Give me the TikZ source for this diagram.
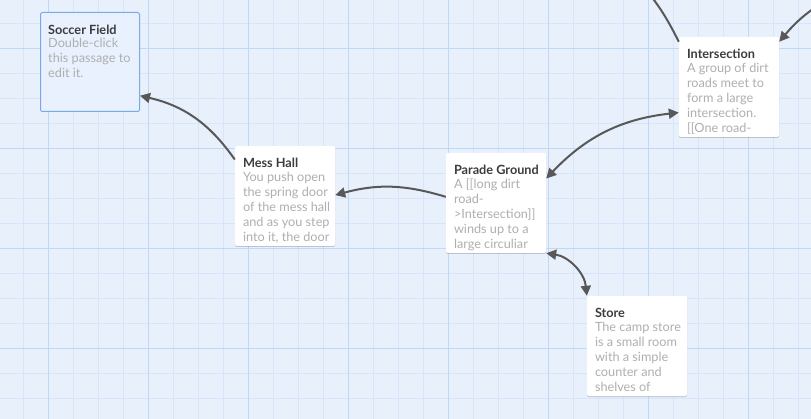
\documentclass[tikz,border=0pt]{standalone}
\usepackage{fontspec}
\setmainfont{Lato}
\usetikzlibrary{arrows.meta,shadows}
\definecolor{mapbg}{RGB}{232,240,252}
\definecolor{gridminor}{RGB}{214,229,250}
\definecolor{gridmajor}{RGB}{192,216,248}
\definecolor{selblue}{RGB}{122,168,232}
\definecolor{selfill}{RGB}{232,241,253}
\definecolor{titlegray}{RGB}{60,60,60}
\definecolor{excerptgray}{RGB}{175,175,175}
\definecolor{linkgray}{RGB}{88,88,88}
\tikzset{
  passage/.style={fill=white, rounded corners=2pt, minimum width=100pt, minimum height=100pt, inner sep=0pt,
    drop shadow={shadow xshift=0pt, shadow yshift=-1pt, opacity=0.18, fill=black}},
  chosen/.style={draw=selblue, fill=selfill, line width=1pt, rounded corners=2pt, minimum width=99pt, minimum height=99pt, inner sep=0pt},
  excerpt/.style={anchor=north west, inner sep=0pt, align=left, text=excerptgray, font=\fontsize{12.7}{15}\selectfont},
  link/.style={draw=linkgray, line width=2pt, -{Triangle[length=10pt,width=10pt]}},
  twoway/.style={link, {Triangle[length=10pt,width=10pt]}-{Triangle[length=10pt,width=10pt]}}
}
\newcommand{\ptitle}[1]{\textcolor{titlegray}{\bfseries #1}\\[-1.5pt]}
\begin{document}
\begin{tikzpicture}[x=1pt,y=1pt]
  \useasboundingbox (0,0) rectangle (811,-419);
  \clip (0,0) rectangle (811,-419);
  % story map grid
  \fill[mapbg] (0,0) rectangle (811,-419);
  \foreach \x in {23,48,...,798} \draw[gridminor] (\x,0) -- (\x,-419);
  \foreach \y in {23,48,...,398} \draw[gridminor] (0,-\y) -- (811,-\y);
  \foreach \x in {48,148,...,748} \draw[gridmajor] (\x,0) -- (\x,-419);
  \foreach \y in {48,148,...,348} \draw[gridmajor] (0,-\y) -- (811,-\y);

  % passages
  \node[chosen] (soccer) at (90,-62) {};
  \node[passage] (mess) at (285,-196) {};
  \node[passage] (parade) at (496,-203) {};
  \node[passage] (inter) at (729,-87) {};
  \node[passage] (store) at (637,-346) {};

  \node[excerpt] (soccertxt) at ([shift={(8,-12.5)}]soccer.north west)
    {\ptitle{Soccer Field}Double-click\\this passage to\\edit it.};
  \node[excerpt] (messtxt) at ([shift={(8,-12.5)}]mess.north west)
    {\ptitle{Mess Hall}You push open\\the spring door\\of the mess hall\\and as you step\\into it, the door};
  \node[excerpt] (paradetxt) at ([shift={(8,-12.5)}]parade.north west)
    {\ptitle{Parade Ground}A [[long dirt\\road-\\>Intersection]]\\winds up to a\\large circuliar};
  \node[excerpt] (intertxt) at ([shift={(8,-12.5)}]inter.north west)
    {\ptitle{Intersection}A group of dirt\\roads meet to\\form a large\\intersection.\\{[}[One road-};
  \node[excerpt] (storetxt) at ([shift={(8,-12.5)}]store.north west)
    {\ptitle{Store}The camp store\\is a small room\\with a simple\\counter and\\shelves of};

  % links
  \coordinate (farnw) at (633,25);
  \coordinate (farne) at (835,5);
  \draw[link] (mess.144) to[bend right=21] (soccer.-34);
  \draw[link] (parade.173) to[bend right=16] (mess.1);
  \draw[twoway] (parade.26) to[bend left=20] (inter.207);
  \draw[twoway] (parade.-45) to[bend left=38] (store.135);
  \draw[link, -] (inter.138) to[bend right=8] (farnw);
  \draw[link] (farne) to[bend right=10] (inter.42);
\end{tikzpicture}
\end{document}
